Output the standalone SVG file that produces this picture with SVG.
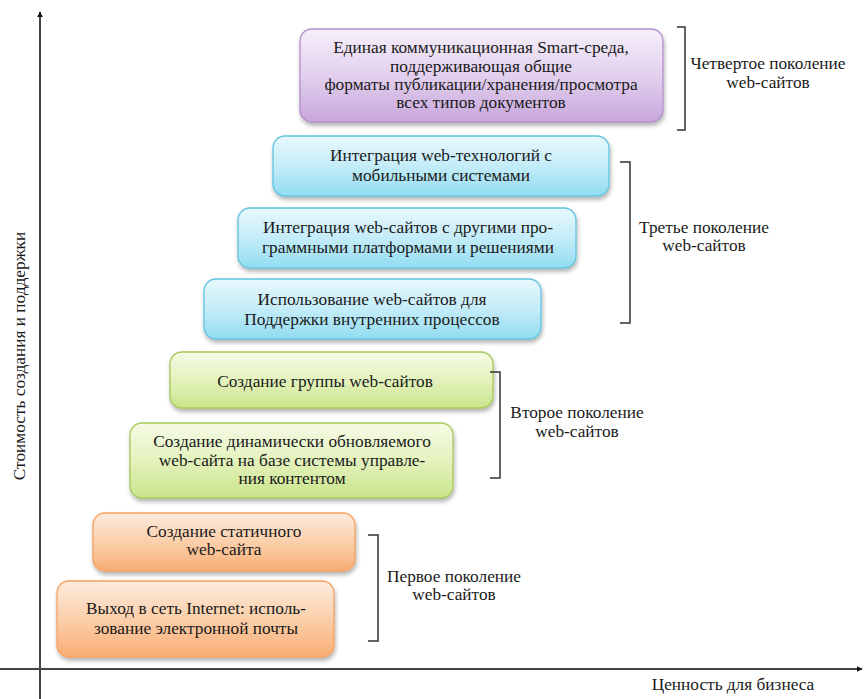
<svg xmlns="http://www.w3.org/2000/svg" width="866" height="699" viewBox="0 0 866 699" font-family="Liberation Serif, serif" font-size="17.3">
<defs>
<linearGradient id="gP" x1="0" y1="0" x2="0" y2="1"><stop offset="0" stop-color="#f6effa"/><stop offset="0.5" stop-color="#e2d0ee"/><stop offset="1" stop-color="#c7a6dc"/></linearGradient>
<linearGradient id="gB" x1="0" y1="0" x2="0" y2="1"><stop offset="0" stop-color="#e8f8fd"/><stop offset="0.5" stop-color="#c4ecf8"/><stop offset="1" stop-color="#92dcf2"/></linearGradient>
<linearGradient id="gG" x1="0" y1="0" x2="0" y2="1"><stop offset="0" stop-color="#f6fbe6"/><stop offset="0.5" stop-color="#e4f2bd"/><stop offset="1" stop-color="#c9e48a"/></linearGradient>
<linearGradient id="gO" x1="0" y1="0" x2="0" y2="1"><stop offset="0" stop-color="#fdebdd"/><stop offset="0.5" stop-color="#fbcfaa"/><stop offset="1" stop-color="#f8ad74"/></linearGradient>
<filter id="sh" x="-10%" y="-10%" width="120%" height="130%"><feDropShadow dx="1" dy="3" stdDeviation="2" flood-color="#000" flood-opacity="0.3"/></filter>
<marker id="arr" viewBox="0 0 10 10" refX="9" refY="5" markerWidth="6" markerHeight="6" orient="auto-start-reverse" markerUnits="userSpaceOnUse"><path d="M0,0 L10,5 L0,10 z" fill="#111"/></marker>
</defs>
<style>
text{fill:#1a1a1a;text-anchor:middle}
.box{filter:url(#sh);stroke-width:1.3}
.p{fill:url(#gP);stroke:#b48fcc}
.b{fill:url(#gB);stroke:#62c3e0}
.g{fill:url(#gG);stroke:#a6c95a}
.o{fill:url(#gO);stroke:#f5a263}
.br{fill:none;stroke:#333;stroke-width:1.5}
.ax{stroke:#444;stroke-width:2;fill:none}
</style>
<rect width="866" height="699" fill="#fff"/>
<g id="axes">
<line class="ax" x1="40" y1="699" x2="40" y2="12" marker-end="url(#arr)"/>
<line class="ax" x1="0" y1="669" x2="862" y2="669" marker-end="url(#arr)"/>
<text x="733" y="690">Ценность для бизнеса</text>
<text transform="translate(25,356) rotate(-90)">Стоимость создания и поддержки</text>
</g>
<g id="n1"><rect class="box p" x="300" y="29" width="363" height="93" rx="12"/>
<text x="481" y="53">Единая коммуникационная Smart-среда,</text>
<text x="481" y="72">поддерживающая общие</text>
<text x="481" y="90">форматы публикации/хранения/просмотра</text>
<text x="481" y="108">всех типов документов</text></g>
<g id="n2"><rect class="box b" x="273" y="136" width="336" height="60" rx="12"/>
<text x="441" y="161">Интеграция web-технологий с</text>
<text x="441" y="181">мобильными системами</text></g>
<g id="n3"><rect class="box b" x="238" y="208" width="338" height="60" rx="12"/>
<text x="408" y="233">Интеграция web-сайтов с другими про-</text>
<text x="408" y="253">граммными платформами и решениями</text></g>
<g id="n4"><rect class="box b" x="204" y="279" width="337" height="60" rx="12"/>
<text x="372" y="305">Использование web-сайтов для</text>
<text x="372" y="325">Поддержки внутренних  процессов</text></g>
<g id="n5"><rect class="box g" x="170" y="352" width="323" height="56" rx="12"/>
<text x="325" y="387">Создание группы web-сайтов</text></g>
<g id="n6"><rect class="box g" x="130" y="423" width="323" height="75" rx="12"/>
<text x="292" y="447">Создание динамически обновляемого</text>
<text x="292" y="466">web-сайта на базе системы управле-</text>
<text x="292" y="484">ния контентом</text></g>
<g id="n7"><rect class="box o" x="93" y="513" width="262" height="58" rx="12"/>
<text x="224" y="537">Создание статичного</text>
<text x="224" y="555">web-сайта</text></g>
<g id="n8"><rect class="box o" x="57" y="581" width="277" height="76" rx="12"/>
<text x="196" y="614">Выход в сеть Internet: исполь-</text>
<text x="196" y="634">зование электронной почты</text></g>
<g id="connectors">
<path class="br" d="M677,27 H685 V130 H677"/>
<path class="br" d="M620,162 H630 V323 H620"/>
<path class="br" d="M490,372 H500 V478 H490"/>
<path class="br" d="M368,535 H378 V641 H368"/>
</g>
<g id="labels">
<text x="768" y="69">Четвертое поколение</text>
<text x="768" y="88">web-сайтов</text>
<text x="704" y="233">Третье поколение</text>
<text x="704" y="251">web-сайтов</text>
<text x="577" y="418">Второе поколение</text>
<text x="577" y="437">web-сайтов</text>
<text x="454" y="582">Первое поколение</text>
<text x="454" y="600">web-сайтов</text>
</g>
</svg>
